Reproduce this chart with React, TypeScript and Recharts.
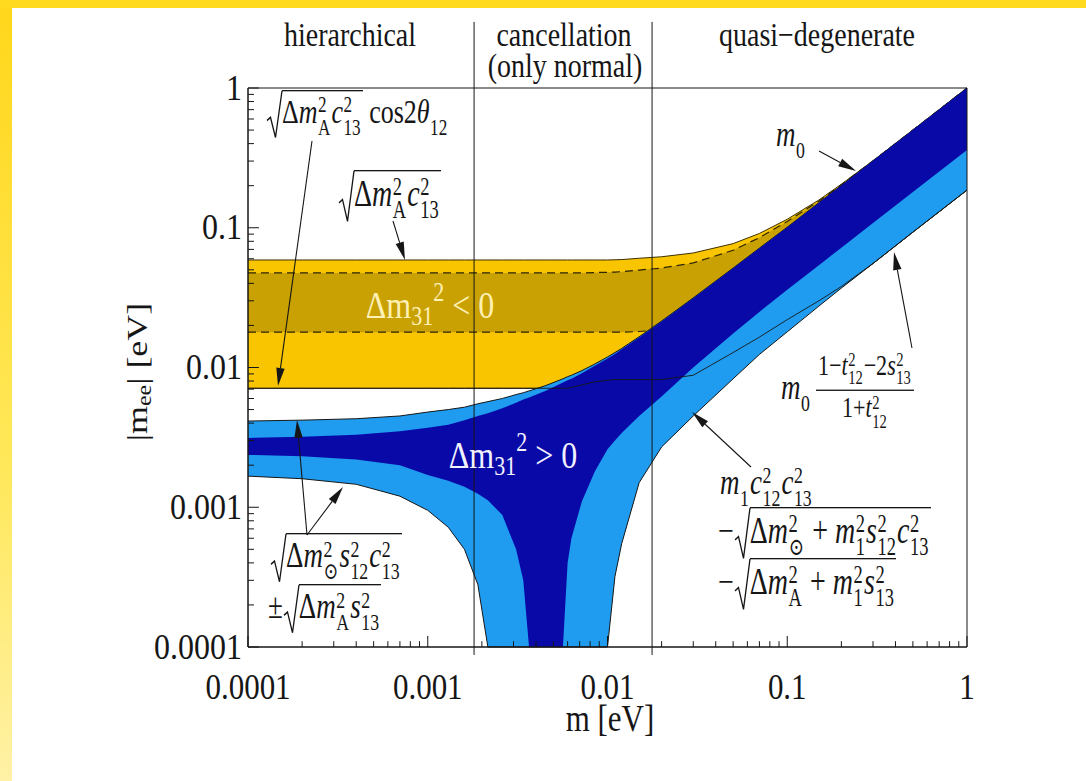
import React from 'react';
import { ComposedChart, Area, Line, XAxis, YAxis, ReferenceLine, ReferenceArea } from 'recharts';

// lightest neutrino mass m [eV]
const masses = [
  0.0001, 0.0002, 0.0004, 0.0007, 0.001, 0.0013, 0.0016, 0.0019, 0.00216, 0.0026, 0.0031,
  0.0034, 0.00366, 0.0045, 0.00565, 0.006, 0.0063, 0.0072, 0.0085, 0.01, 0.011, 0.012,
  0.015, 0.02, 0.03, 0.05, 0.07, 0.1, 0.15, 0.2, 0.3, 0.5, 1,
];

// normal ordering, 3 sigma band (light blue)
const normalHigh3s = [
  0.00414, 0.0042, 0.0043, 0.0045, 0.0048, 0.005, 0.0052, 0.0055, 0.0057, 0.006, 0.0064,
  0.0066, 0.0068, 0.0074, 0.0083, 0.0086, 0.0088, 0.0095, 0.0106, 0.0119, 0.0128, 0.0137,
  0.0166, 0.0215, 0.0315, 0.0515, 0.0715, 0.101, 0.151, 0.201, 0.301, 0.5, 1.0,
];
const normalLow3s = [
  0.00167, 0.0016, 0.00146, 0.0012, 0.00095, 0.00072, 0.0005, 0.00028, 0.0001, 0.0001, 0.0001,
  0.0001, 0.0001, 0.0001, 0.0001, 0.0001, 0.0001, 0.0001, 0.0001, 0.0001, 0.00032, 0.00055,
  0.0015, 0.0027, 0.0045, 0.0083, 0.0124, 0.018, 0.0275, 0.037, 0.0555, 0.093, 0.186,
];

// normal ordering, best fit (dark blue)
const normalHighBest = [
  0.00313, 0.0032, 0.0033, 0.0035, 0.0037, 0.0039, 0.0042, 0.0045, 0.0047, 0.0051, 0.0056,
  0.0059, 0.0061, 0.0068, 0.0078, 0.0081, 0.0083, 0.0091, 0.0103, 0.0116, 0.0125, 0.0135,
  0.0164, 0.0213, 0.0313, 0.0513, 0.0713, 0.101, 0.151, 0.201, 0.301, 0.5, 1.0,
];
const normalLowBest = [
  0.00237, 0.00232, 0.0022, 0.002, 0.0017, 0.00155, 0.0014, 0.00125, 0.00112, 0.00088, 0.0005,
  0.0003, 0.0001, 0.0001, 0.0001, 0.0004, 0.0006, 0.0011, 0.0018, 0.0026, 0.003, 0.0034,
  0.0045, 0.0062, 0.01, 0.0175, 0.025, 0.036, 0.054, 0.072, 0.108, 0.18, 0.36,
];

// inverted ordering, 3 sigma band (yellow)
const invertedHigh3s = [
  0.0588, 0.0588, 0.0588, 0.0588, 0.0588, 0.0588, 0.0588, 0.0588, 0.0588, 0.0588, 0.0588,
  0.0588, 0.0588, 0.0588, 0.0588, 0.0588, 0.0588, 0.0588, 0.0588, 0.0588, 0.059, 0.0592,
  0.0605, 0.062, 0.066, 0.077, 0.091, 0.115, 0.158, 0.205, 0.302, 0.5, 1.0,
];
const invertedLow3s = [
  0.0071, 0.0071, 0.0071, 0.0071, 0.0071, 0.0071, 0.0071, 0.0071, 0.0071, 0.0071, 0.0071,
  0.0071, 0.0071, 0.0071, 0.0071, 0.0071, 0.0072, 0.0075, 0.0079, 0.0081, 0.0082, 0.0082,
  0.0082, 0.0082, 0.0088, 0.0128, 0.0165, 0.022, 0.03, 0.038, 0.0555, 0.093, 0.186,
];

// inverted ordering, best fit (dark gold, dashed edges)
const invertedHighBest = [
  0.0475, 0.0475, 0.0475, 0.0475, 0.0475, 0.0475, 0.0475, 0.0475, 0.0475, 0.0475, 0.0475,
  0.0475, 0.0475, 0.0475, 0.0475, 0.0475, 0.0475, 0.0475, 0.0478, 0.048, 0.0482, 0.0485,
  0.0498, 0.0515, 0.056, 0.069, 0.085, 0.111, 0.155, 0.203, 0.301, 0.5, 1.0,
];
const invertedLowBest = [
  0.0179, 0.0179, 0.0179, 0.0179, 0.0179, 0.0179, 0.0179, 0.0179, 0.0179, 0.0179, 0.0179,
  0.0179, 0.0179, 0.0179, 0.0179, 0.0179, 0.0179, 0.0179, 0.0179, 0.0179, 0.0179, 0.0179,
  0.0181, 0.0186, 0.0196, 0.0235, 0.028, 0.037, 0.054, 0.073, 0.109, 0.181, 0.36,
];

const majorTicks = [0.0001, 0.001, 0.01, 0.1, 1];
const tickLabels = ['0.0001', '0.001', '0.01', '0.1', '1'];
const minorSteps = [2, 3, 4, 5, 6, 7, 8, 9];
const minorTicks = majorTicks.slice(0, -1).flatMap((d) => minorSteps.map((k) => +(k * d).toPrecision(3)));

// borders between hierarchical / cancellation / quasi-degenerate
const regionEdges = [0.00181, 0.0177];

const data = masses.map((m, i) => ({
  m,
  normal3s: [normalLow3s[i], normalHigh3s[i]],
  normalBest: [normalLowBest[i], normalHighBest[i]],
  inverted3s: [invertedLow3s[i], invertedHigh3s[i]],
  invertedBest: [invertedLowBest[i], invertedHighBest[i]],
  invertedMin: invertedLow3s[i],
}));

const FONT = "'Liberation Serif', 'DejaVu Serif', serif";
const SY = 1.2;
const INK = '#161616';
const AXIS_MIN = 0.0001;
// inward tick lengths as factors on the log axes
const X_TICK = { major: 1.2, minor: 1.1 };
const Y_TICK = { major: 1.15, minor: 1.08 };

const GOLD_LIGHT = '#F8C500';
const GOLD_DARK = '#C9A103';
const BLUE_LIGHT = '#1F9CF0';
const BLUE_DARK = '#0909A8';

function XTick(props: any) {
  const { x, y, payload } = props;
  const i = majorTicks.indexOf(payload.value);
  if (i < 0) return <g />;
  return (
    <text transform={`translate(${x},${y}) scale(1,1.15)`} y={45} textAnchor="middle"
      fontFamily={FONT} fontSize={31} fill={INK}>
      {tickLabels[i]}
    </text>
  );
}

function YTick(props: any) {
  const { x, y, payload } = props;
  const i = majorTicks.indexOf(payload.value);
  if (i < 0) return <g />;
  return (
    <text transform={`translate(${x - 6},${y}) scale(1,1.15)`} y={10} textAnchor="end"
      fontFamily={FONT} fontSize={32} fill={INK}>
      {tickLabels[i]}
    </text>
  );
}

function Arrow({ x1, y1, x2, y2 }: { x1: number; y1: number; x2: number; y2: number }) {
  const len = Math.hypot(x2 - x1, y2 - y1);
  const ux = (x2 - x1) / len;
  const uy = (y2 - y1) / len;
  const bx = x2 - ux * 18;
  const by = y2 - uy * 18;
  const nx = -uy * 4.2;
  const ny = ux * 4.2;
  return (
    <g>
      <line x1={x1} y1={y1} x2={bx} y2={by} stroke={INK} strokeWidth={1.1} />
      <polygon points={`${x2},${y2} ${bx + nx},${by + ny} ${bx - nx},${by - ny}`} fill={INK} />
    </g>
  );
}

const I = ({ children }: { children: React.ReactNode }) => <span style={{ fontStyle: 'italic' }}>{children}</span>;

// stacked super/subscript pair
const SS = ({ sup, sub }: { sup?: string; sub?: string }) => (
  <span style={{
    display: 'inline-flex', flexDirection: 'column', verticalAlign: '0.45em', fontSize: '0.66em',
    lineHeight: '0.95em', marginLeft: '0.03em', marginRight: '0.06em',
  }}>
    <span>{sup ?? '\u00a0'}</span>
    <span>{sub ?? '\u00a0'}</span>
  </span>
);

function Sqrt({ children }: { children: React.ReactNode }) {
  return (
    <span style={{ position: 'relative', display: 'inline-block', paddingLeft: 16 }}>
      <svg width={16} viewBox="0 0 16 40" preserveAspectRatio="none"
        style={{ position: 'absolute', left: 0, top: 0, height: '100%', overflow: 'visible' }}>
        <path d="M1 25 L4.5 22.5 L9.5 39 L16 0.7" fill="none" stroke={INK} strokeWidth={1.3}
          vectorEffect="non-scaling-stroke" />
      </svg>
      <span style={{ display: 'inline-block', borderTop: `1.3px solid ${INK}`, paddingTop: 1, paddingRight: 1 }}>
        {children}
      </span>
    </span>
  );
}

const Frac = ({ num, den }: { num: React.ReactNode; den: React.ReactNode }) => (
  <span style={{
    display: 'inline-flex', flexDirection: 'column', alignItems: 'center', verticalAlign: 'middle',
    fontSize: '0.82em', lineHeight: 1.05, marginLeft: 5,
  }}>
    <span style={{ borderBottom: `1.2px solid ${INK}`, padding: '0 2px 1px' }}>{num}</span>
    <span style={{ paddingTop: 1 }}>{den}</span>
  </span>
);

const mathBox = (left: number, top: number, size = 27): React.CSSProperties => ({
  position: 'absolute', left, top, fontFamily: FONT, fontSize: size, color: INK, whiteSpace: 'nowrap',
  lineHeight: 1.15, transformOrigin: '0 0', transform: 'scaleY(1.32)',
});

function SvgText({ x, y, size, children, anchor = 'middle', fill = INK, rotate = false }: any) {
  return (
    <text transform={`translate(${x},${y}) scale(1,${SY})${rotate ? ' rotate(-90)' : ''}`}
      textAnchor={anchor} fontFamily={FONT} fontSize={size} fill={fill}>
      {children}
    </text>
  );
}

export default function App() {
  return (
    <div style={{ position: 'absolute', left: 0, top: 0, width: 1086, height: 781, background: '#fff', overflow: 'hidden' }}>
      <div style={{ position: 'absolute', left: 0, top: 0, width: 12, height: 781, background: 'linear-gradient(#FFD61A, #FFE85A 60%, #FFF1A6)' }} />
      <div style={{ position: 'absolute', left: 0, top: 0, width: 1086, height: 8, background: '#FFDA1E' }} />

      <div style={{ position: 'absolute', left: 0, top: 0 }}>
        <ComposedChart width={1086} height={781} data={data} margin={{ top: 88, right: 119, bottom: 74, left: 188 }}>
          <XAxis dataKey="m" type="number" scale="log" domain={[AXIS_MIN, 1]} ticks={majorTicks} interval={0}
            height={60} tickSize={0} tickMargin={0} tick={<XTick />} axisLine={{ stroke: INK }} />
          <YAxis type="number" scale="log" domain={[AXIS_MIN, 1]} ticks={majorTicks} interval={0}
            width={60} tickSize={0} tickMargin={0} tick={<YTick />} axisLine={{ stroke: INK }} />

          <Area dataKey="inverted3s" type="linear" fill={GOLD_LIGHT} fillOpacity={1} stroke="#3d3000"
            strokeWidth={1} dot={false} activeDot={false} isAnimationActive={false} />
          <Area dataKey="invertedBest" type="linear" fill={GOLD_DARK} fillOpacity={1} stroke="#2e2400"
            strokeWidth={1.2} strokeDasharray="8 5" dot={false} activeDot={false} isAnimationActive={false} />
          <Area dataKey="normal3s" type="linear" fill={BLUE_LIGHT} fillOpacity={1} stroke={INK}
            strokeWidth={1} dot={false} activeDot={false} isAnimationActive={false} />
          <Area dataKey="normalBest" type="linear" fill={BLUE_DARK} fillOpacity={1} stroke="none"
            dot={false} activeDot={false} isAnimationActive={false} />
          <Line dataKey="invertedMin" type="linear" stroke={INK} strokeWidth={0.9} dot={false}
            activeDot={false} isAnimationActive={false} />

          {/* inward tick marks on the bottom and left axes */}
          {[...majorTicks, ...minorTicks].map((t) => {
            const f = majorTicks.includes(t) ? X_TICK.major : X_TICK.minor;
            return (
              <ReferenceLine key={`xt${t}`} segment={[{ x: t, y: AXIS_MIN }, { x: t, y: AXIS_MIN * f }]}
                stroke={INK} strokeWidth={1} ifOverflow="visible" />
            );
          })}
          {[...majorTicks, ...minorTicks].map((t) => {
            const f = majorTicks.includes(t) ? Y_TICK.major : Y_TICK.minor;
            return (
              <ReferenceLine key={`yt${t}`} segment={[{ x: AXIS_MIN, y: t }, { x: AXIS_MIN * f, y: t }]}
                stroke={INK} strokeWidth={1} ifOverflow="visible" />
            );
          })}

          {regionEdges.map((e) => (
            <ReferenceLine key={e} segment={[{ x: e, y: 0.0000877 }, { x: e, y: 2.97 }]} stroke={INK}
              strokeWidth={1} ifOverflow="visible" />
          ))}
          <ReferenceArea x1={AXIS_MIN} x2={1} y1={AXIS_MIN} y2={1} fill="none" stroke={INK} strokeWidth={1}
            ifOverflow="visible" />
        </ComposedChart>
      </div>

      <svg width={1086} height={781} style={{ position: 'absolute', left: 0, top: 0, pointerEvents: 'none' }}>
        <SvgText x={350} y={46} size={28}>hierarchical</SvgText>
        <SvgText x={564} y={46} size={28}>cancellation</SvgText>
        <SvgText x={565} y={77} size={28}>(only normal)</SvgText>
        <SvgText x={817} y={46} size={28}>quasi−degenerate</SvgText>

        <SvgText x={610} y={731} size={31}>m [eV]</SvgText>
        <SvgText x={147} y={372} size={30} rotate>
          |m<tspan fontSize={20} dy={4}>ee</tspan><tspan dy={-4}>| [eV]</tspan>
        </SvgText>

        <SvgText x={430} y={318} size={32} fill="#FFF0B4">
          Δm<tspan fontSize={22} dy={6}>31</tspan><tspan fontSize={22} dy={-20}>2</tspan><tspan dy={14}> &lt; 0</tspan>
        </SvgText>
        <SvgText x={513} y={468} size={32} fill="#F2F2FF">
          Δm<tspan fontSize={22} dy={6}>31</tspan><tspan fontSize={22} dy={-20}>2</tspan><tspan dy={14}> &gt; 0</tspan>
        </SvgText>

        <Arrow x1={312} y1={141} x2={278} y2={386} />
        <Arrow x1={393} y1={221} x2={405} y2={260} />
        <Arrow x1={307} y1={535} x2={297} y2={420} />
        <Arrow x1={307} y1={535} x2={343} y2={487} />
        <Arrow x1={819} y1={151} x2={856} y2={171} />
        <Arrow x1={912} y1={348} x2={894} y2={252} />
        <Arrow x1={751} y1={467} x2={692} y2={412} />
      </svg>

      <div style={mathBox(266, 90, 26)}>
        <Sqrt>Δ<I>m</I><SS sup="2" sub="A" /><I>c</I><SS sup="2" sub="13" /></Sqrt> cos2<I>θ</I><SS sub="12" />
      </div>
      <div style={mathBox(338, 170, 28)}>
        <Sqrt>Δ<I>m</I><SS sup="2" sub="A" /><I>c</I><SS sup="2" sub="13" /></Sqrt>
      </div>
      <div style={mathBox(270, 533)}>
        <Sqrt>Δ<I>m</I><SS sup="2" sub="⊙" /><I>s</I><SS sup="2" sub="12" /><I>c</I><SS sup="2" sub="13" /></Sqrt>
      </div>
      <div style={mathBox(268, 584)}>
        ±<Sqrt>Δ<I>m</I><SS sup="2" sub="A" /><I>s</I><SS sup="2" sub="13" /></Sqrt>
      </div>
      <div style={mathBox(776, 114)}>
        <I>m</I><SS sub="0" />
      </div>
      <div style={mathBox(781, 350)}>
        <I>m</I><SS sub="0" />
        <Frac
          num={<>1−<I>t</I><SS sup="2" sub="12" />−2<I>s</I><SS sup="2" sub="13" /></>}
          den={<>1+<I>t</I><SS sup="2" sub="12" /></>}
        />
      </div>
      <div style={mathBox(720, 462)}>
        <I>m</I><SS sub="1" /><I>c</I><SS sup="2" sub="12" /><I>c</I><SS sup="2" sub="13" />
      </div>
      <div style={mathBox(718, 507, 28)}>
        −<Sqrt>Δ<I>m</I><SS sup="2" sub="⊙" /> + <I>m</I><SS sup="2" sub="1" /><I>s</I><SS sup="2" sub="12" /><I>c</I><SS sup="2" sub="13" /></Sqrt>
      </div>
      <div style={mathBox(718, 558, 28)}>
        −<Sqrt>Δ<I>m</I><SS sup="2" sub="A" /> + <I>m</I><SS sup="2" sub="1" /><I>s</I><SS sup="2" sub="13" /></Sqrt>
      </div>
    </div>
  );
}
